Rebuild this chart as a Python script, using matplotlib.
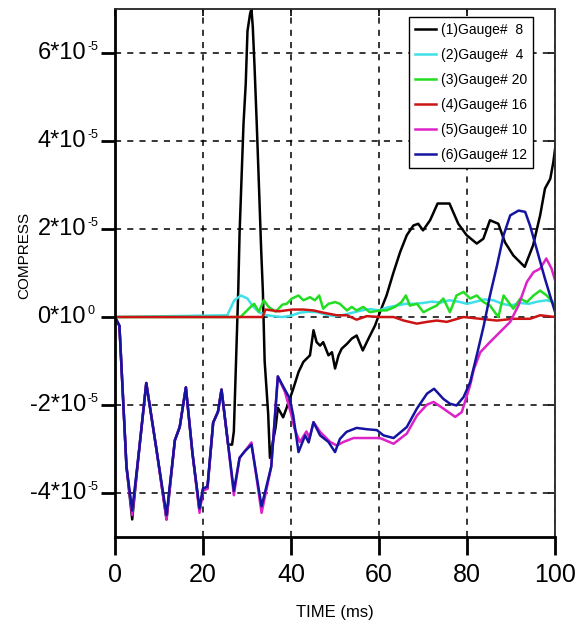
import matplotlib
matplotlib.use("Agg")
import matplotlib.pyplot as plt
from matplotlib import transforms

plt.rcParams["font.family"] = ["Liberation Sans", "DejaVu Sans"]

# data, values in units of 1e-5
t1 = [0, 1.0, 1.6, 2.6, 3.9, 5.5, 7.1, 9.4, 11.7, 13.6, 14.7, 16.1, 17.6, 19.2, 20.0, 21.0,
      22.3, 23.4, 24.2, 25.7, 26.6, 27.0, 27.5, 28.0, 28.3, 28.8, 29.2, 29.7, 30.1, 30.7, 31.0,
      31.3, 31.7, 32.2, 32.7, 33.2, 33.6, 34.0, 34.8, 35.2, 36.5, 37.0, 38.2, 39.3, 40.5, 41.7,
      42.8, 44.3, 45.1, 45.8, 46.6, 47.3, 48.5, 49.3, 50.0, 50.8, 51.5, 52.7, 53.8, 54.9, 56.3,
      57.6, 59.1, 60.2, 61.7, 63.3, 64.8, 66.3, 67.8, 68.9, 70.0, 71.6, 73.3, 76.0, 78.0, 79.9,
      82.2, 83.7, 85.2, 87.1, 88.6, 90.5, 93.1, 95.0, 96.6, 97.7, 98.9, 99.6, 100]
v1 = [0, -0.2, -1.4, -3.4, -4.6, -3.0, -1.5, -3.0, -4.6, -2.8, -2.5, -1.6, -3.1, -4.4, -3.9, -3.9,
      -2.4, -2.15, -1.65, -2.9, -2.9, -2.6, -1.0, 0.6, 1.9, 3.3, 4.4, 5.3, 6.5, 6.9, 7.0,
      6.6, 5.7, 4.4, 3.0, 1.55, 0.57, -1.0, -2.2, -3.2, -2.5, -2.06, -2.28, -1.98, -1.63, -1.25,
      -1.02, -0.87, -0.30, -0.57, -0.65, -0.57, -0.87, -0.8, -1.17, -0.87, -0.72, -0.61, -0.49, -0.42, -0.76,
      -0.49, -0.19, 0.11, 0.49, 1.02, 1.48, 1.86, 2.08, 2.12, 1.97, 2.2, 2.58, 2.58, 2.12, 1.86,
      1.67, 1.78, 2.2, 2.12, 1.7, 1.4, 1.14, 1.63, 2.31, 2.92, 3.14, 3.52, 3.83]

t2 = [0, 25.5, 27.1, 28.6, 30.1, 31.2, 32.7, 34.0, 36, 38, 40, 42, 44, 46, 48, 50, 52, 54, 56,
      58, 60, 62, 64, 66, 68, 70, 72, 74, 76, 78, 80, 82, 84, 86, 88, 90, 92, 94, 96, 98, 100]
v2 = [0, 0.04, 0.38, 0.49, 0.42, 0.26, 0.11, 0.05, 0.02, 0.0, 0.03, 0.1, 0.12, 0.11, 0.05, 0.02,
      0.05, 0.1, 0.15, 0.18, 0.15, 0.22, 0.26, 0.3, 0.3, 0.32, 0.35, 0.33, 0.38, 0.35, 0.3, 0.35,
      0.4, 0.38, 0.3, 0.26, 0.32, 0.3, 0.35, 0.38, 0.34]

t3 = [0, 28.5, 29.5, 30.5, 31.6, 32.7, 33.8, 34.9, 36.5, 38.0, 39.0, 40.2, 41.7, 42.8, 44.3, 45.4,
      46.4, 47.3, 48.5, 50.0, 51.1, 52.7, 53.8, 54.9, 56.4, 57.9, 60.2, 61.7, 63.6, 65.1, 66.1,
      67.0, 68.6, 70.1, 71.6, 73.1, 74.6, 76.1, 77.6, 79.2, 80.7, 82.2, 83.7, 85.2, 87.1, 88.3,
      89.4, 90.5, 92.1, 93.6, 95.1, 96.6, 98.1, 100]
v3 = [0, 0.0, 0.1, 0.2, 0.3, 0.12, 0.38, 0.23, 0.12, 0.28, 0.3, 0.42, 0.49, 0.38, 0.45, 0.38,
      0.49, 0.19, 0.30, 0.34, 0.30, 0.15, 0.23, 0.15, 0.23, 0.11, 0.15, 0.15, 0.23, 0.34, 0.49,
      0.26, 0.30, 0.11, 0.19, 0.26, 0.42, 0.11, 0.49, 0.57, 0.42, 0.49, 0.34, 0.26, 0.0, 0.49,
      0.34, 0.19, 0.42, 0.34, 0.49, 0.6, 0.49, 0.26]

t4 = [0, 33.5, 34.2, 37.2, 40.3, 42.8, 45.1, 47.3, 50.4, 52.7, 54.9, 57.2, 60.2, 63.3, 65.6,
      68.6, 70.9, 73.1, 75.4, 79.2, 83.0, 86.8, 90.5, 94.3, 96.6, 100]
v4 = [0, 0.0, 0.17, 0.13, 0.17, 0.17, 0.15, 0.1, 0.04, 0.04, -0.06, 0.02, 0.0, 0.0, -0.08,
      -0.15, -0.11, -0.08, -0.11, 0.0, -0.04, -0.08, -0.04, -0.04, 0.04, 0.0]

t5 = [0, 1.0, 1.6, 2.6, 3.9, 5.5, 7.1, 9.4, 11.7, 13.6, 14.7, 16.1, 17.6, 19.2, 20.0, 21.0,
      22.3, 23.4, 24.2, 25.7, 27.0, 28.3, 29.5, 31.0, 33.3, 35.5, 37.0, 38.6, 40.0, 40.8, 42.0,
      43.5, 44.2, 45.1, 46.6, 48.9, 50.4, 51.9, 54.2, 57.2, 60.2, 63.3, 66.3, 68.6, 70.9, 72.4,
      74.6, 77.3, 78.8, 80.7, 81.5, 83.0, 85.2, 87.5, 89.8, 91.7, 93.6, 95.1, 96.6, 98.0, 99.2, 100]
v5 = [0, -0.2, -1.4, -3.4, -4.5, -3.0, -1.5, -3.0, -4.6, -2.8, -2.5, -1.6, -3.1, -4.45, -3.95, -3.9,
      -2.4, -2.15, -1.65, -2.9, -4.05, -3.2, -3.05, -2.85, -4.45, -3.4, -1.35, -1.7, -2.2, -2.54, -2.84,
      -2.6, -2.75, -2.39, -2.61, -2.84, -2.92, -2.84, -2.75, -2.75, -2.75, -2.88, -2.65, -2.24, -1.99, -1.93,
      -2.08, -2.27, -2.16, -1.55, -1.2, -0.8, -0.57, -0.34, -0.11, 0.27, 0.8, 1.02, 1.1, 1.33, 1.1, 0.83]

t6 = [0, 1.0, 1.6, 2.6, 3.9, 5.5, 7.1, 9.4, 11.7, 13.6, 14.7, 16.1, 17.6, 19.2, 20.0, 21.0,
      22.3, 23.4, 24.2, 25.7, 27.0, 28.3, 29.5, 31.0, 33.3, 35.5, 37.0, 38.6, 39.7, 40.5, 41.7,
      43.2, 44.0, 45.1, 46.6, 48.5, 50.0, 51.1, 52.6, 54.9, 57.2, 59.5, 61.0, 63.3, 66.3, 68.6,
      70.9, 72.5, 74.6, 76.1, 77.6, 79.2, 80.7, 82.2, 83.8, 85.2, 86.8, 88.3, 89.8, 91.7, 93.2,
      94.3, 95.8, 97.7, 100]
v6 = [0, -0.2, -1.4, -3.4, -4.4, -3.0, -1.5, -3.0, -4.5, -2.8, -2.5, -1.6, -3.1, -4.35, -3.9, -3.85,
      -2.4, -2.15, -1.65, -2.9, -3.95, -3.2, -3.05, -2.9, -4.3, -3.4, -1.35, -1.65, -1.85, -2.24, -3.07,
      -2.69, -2.85, -2.39, -2.69, -2.84, -3.07, -2.77, -2.61, -2.52, -2.55, -2.57, -2.69, -2.75, -2.5, -2.08,
      -1.74, -1.63, -1.86, -1.97, -2.01, -1.82, -1.48, -0.87, -0.19, 0.49, 1.17, 1.86, 2.31, 2.42, 2.39,
      2.08, 1.55, 0.87, 0.11]

labels = ["(1)Gauge#  8", "(2)Gauge#  4", "(3)Gauge# 20", "(4)Gauge# 16", "(5)Gauge# 10", "(6)Gauge# 12"]
colors = ["#000000", "#3fe0e8", "#22dd22", "#cc1414", "#dd22c8", "#1414a0"]
series = [(t1, v1), (t2, v2), (t3, v3), (t4, v4), (t5, v5), (t6, v6)]

xticks = [0, 20, 40, 60, 80, 100]
yticks = [-4, -2, 0, 2, 4, 6]
ytick_base = ["-4*10", "-2*10", "0*10", "2*10", "4*10", "6*10"]
ytick_exp = ["-5", "-5", "0", "-5", "-5", "-5"]

fig = plt.figure(figsize=(5.76, 6.23), dpi=100)
ax = fig.add_axes([0.1997, 0.138, 0.764, 0.8475])

for (t, v), c, lab in zip(series, colors, labels):
    ax.plot(t, v, color=c, lw=1.8, label=lab)

ax.set_xlim(0, 100)
ax.set_ylim(-5, 7)
ax.set_xticks(xticks)
ax.set_yticks(yticks)
ax.set_yticklabels([])
ax.set_xticklabels([str(x) for x in xticks], fontsize=18)
ax.grid(True, color="black", ls=(0, (4, 4)), lw=1.1)

# y tick labels written as base + small superscript
trans = transforms.blended_transform_factory(ax.transAxes, ax.transData)
for y, b, e in zip(yticks, ytick_base, ytick_exp):
    tb = ax.text(-0.066, y, b, transform=trans, ha="right", va="center", fontsize=17)
    ax.annotate(e, xy=(1.0, 1.0), xycoords=tb, xytext=(1, 1), textcoords="offset points",
                ha="left", va="top", fontsize=9)

ax.tick_params(axis="x", direction="out", length=13, width=2, pad=6)
ax.tick_params(axis="y", direction="out", length=10, width=2, pad=3)
for s in ["left", "bottom"]:
    ax.spines[s].set_linewidth(2)
for s in ["top", "right"]:
    ax.spines[s].set_linewidth(1.2)
    ax.spines[s].set_color("#333333")

# short inward ticks on top and right
top = ax.secondary_xaxis("top")
top.set_xticks(xticks)
top.tick_params(direction="in", length=5, width=1.2, labeltop=False)
top.spines["top"].set_linewidth(1.2)
top.spines["top"].set_color("#333333")
right = ax.secondary_yaxis("right")
right.set_yticks(yticks)
right.tick_params(direction="in", length=5, width=1.2, labelright=False)
right.spines["right"].set_linewidth(1.2)
right.spines["right"].set_color("#333333")

ax.set_xlabel("TIME (ms)", fontsize=12, labelpad=13)
ax.set_ylabel("COMPRESS", fontsize=11)
ax.yaxis.set_label_coords(-0.19, 0.534)

leg = ax.legend(loc="upper right", bbox_to_anchor=(0.95, 0.985), borderaxespad=0,
                fontsize=10, fancybox=False, framealpha=1, edgecolor="black",
                handlelength=1.5, handletextpad=0.4, labelspacing=0.8)
leg.get_frame().set_linewidth(1.0)

fig.savefig("out.png", dpi=100)
